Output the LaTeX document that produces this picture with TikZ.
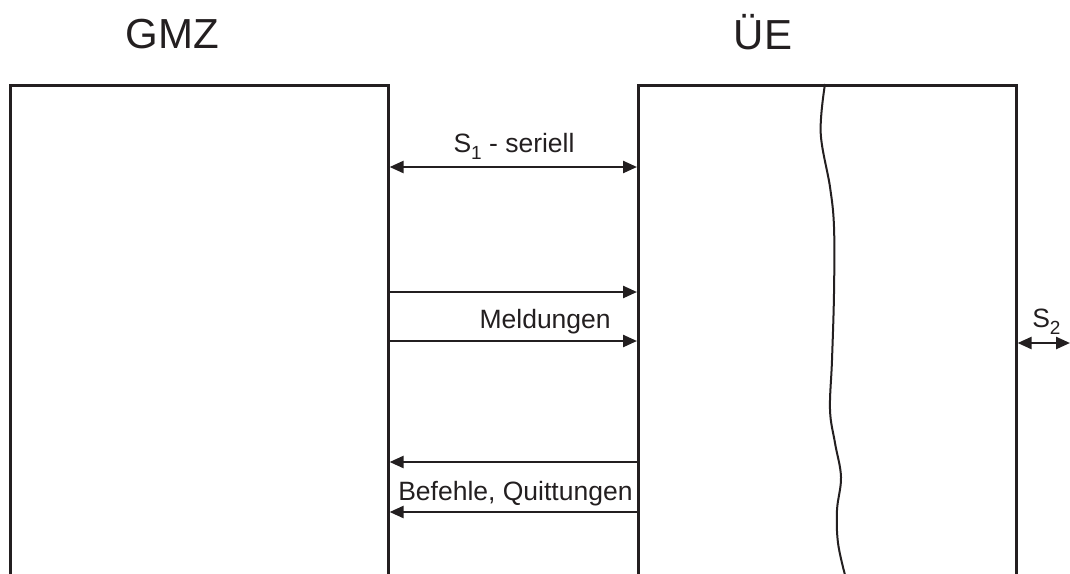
\documentclass[tikz,border=0pt]{standalone}
\usepackage{fontspec}
\setmainfont{Liberation Sans}
\usetikzlibrary{arrows.meta}
\definecolor{ink}{HTML}{231F20}
\newcommand{\idx}[1]{\raisebox{-0.28em}{\fontsize{19}{20}\selectfont #1}}
\begin{document}
\begin{tikzpicture}[x=1pt,y=-1pt,
  line width=2.6pt, draw=ink, text=ink,
  block/.style={draw=ink, line width=2.6pt, rectangle, inner sep=0pt, anchor=north west},
  title/.style={font=\fontsize{42}{44}\selectfont, anchor=base, inner sep=0pt},
  lbl/.style={font=\fontsize{26.5}{28}\selectfont, anchor=base, inner sep=0pt},
  sig/.style={line width=2.4pt, -{Triangle[length=14pt,width=12pt]}},
  bisig/.style={line width=2.4pt, {Triangle[length=14pt,width=12pt]}-{Triangle[length=14pt,width=12pt]}}]
\useasboundingbox (0,0) rectangle (1070,573);
\fill[white] (0,0) rectangle (1070,573);
\clip (0,0) rectangle (1070,573);

% the two units, open towards the bottom edge
\node[block, minimum width=378pt, minimum height=540pt] (gmz) at (9,84) {};
\node[block, minimum width=378pt, minimum height=540pt] (ue) at (637,84) {};

\node[title] (tgmz) at (172,48) {GMZ};
\node[title] (tue) at (763,49) {ÜE};

% break line inside the ÜE unit
\draw[line width=2pt] plot[smooth, tension=0.6] coordinates {
  (825,84) (820.7,133) (830,187) (834,227) (834,293) (832,360)
  (830,410) (835,443) (841,477) (837,510) (838,543) (845,575)};

% serial interface S1
\draw[bisig] (gmz.east |- 0,167) -- (ue.west |- 0,167);
\node[lbl] (s1) at (514,152) {S\idx{1} - seriell};

% reports
\draw[sig] (gmz.east |- 0,292) -- (ue.west |- 0,292);
\draw[sig] (gmz.east |- 0,341) -- (ue.west |- 0,341);
\node[lbl, anchor=base east] (meld) at (612,328) {Meldungen};

% commands and acknowledgements
\draw[sig] (ue.west |- 0,462) -- (gmz.east |- 0,462);
\draw[sig] (ue.west |- 0,512) -- (gmz.east |- 0,512);
\node[lbl, anchor=base west] (bef) at (397,500) {Befehle, Quittungen};

% interface S2
\coordinate (s2end) at (1070,343);
\draw[bisig] (ue.east |- s2end) -- (s2end);
\node[lbl, anchor=base west] (s2) at (1031,327) {S\idx{2}};
\end{tikzpicture}
\end{document}
